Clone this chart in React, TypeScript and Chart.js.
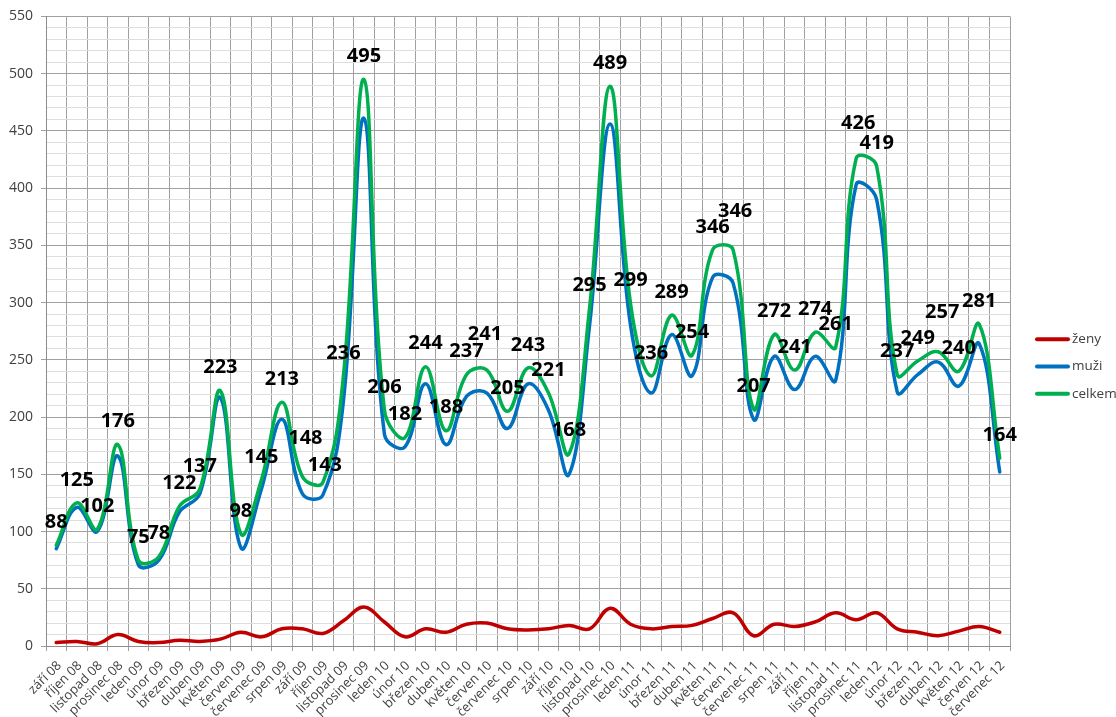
import React, { useEffect, useRef } from "react";
import { Chart, registerables } from "chart.js";

Chart.register(...registerables);

const categories: string[] = [
  "září 08", "říjen 08", "listopad 08", "prosinec 08",
  "leden 09", "únor 09", "březen 09", "duben 09", "květen 09", "červen 09", "červenec 09", "srpen 09", "září 09", "říjen 09", "listopad 09", "prosinec 09",
  "leden 10", "únor 10", "březen 10", "duben 10", "květen 10", "červen 10", "červenec 10", "srpen 10", "září 10", "říjen 10", "listopad 10", "prosinec 10",
  "leden 11", "únor 11", "březen 11", "duben 11", "květen 11", "červen 11", "červenec 11", "srpen 11", "září 11", "říjen 11", "listopad 11", "prosinec 11",
  "leden 12", "únor 12", "březen 12", "duben 12", "květen 12", "červen 12", "červenec 12",
];

const zeny: number[] = [
  3, 4, 2, 10,
  4, 3, 5, 4, 6, 12, 8, 15, 15, 11, 22, 34,
  21, 8, 15, 12, 19, 20, 15, 14, 15, 18, 15, 33,
  19, 15, 17, 18, 24, 29, 9, 19, 17, 21, 29, 23,
  29, 15, 12, 9, 13, 17, 12,
];

const muzi: number[] = [
  85, 121, 100, 166,
  71, 75, 117, 133, 217, 86, 137, 198, 133, 132, 214, 461,
  185, 174, 229, 176, 218, 221, 190, 229, 206, 150, 280, 456,
  280, 221, 272, 236, 322, 317, 198, 253, 224, 253, 232, 403,
  390, 222, 237, 248, 227, 264, 152,
];

const celkem: number[] = [
  88, 125, 102, 176,
  75, 78, 122, 137, 223, 98, 145, 213, 148, 143, 236, 495,
  206, 182, 244, 188, 237, 241, 205, 243, 221, 168, 295, 489,
  299, 236, 289, 254, 346, 346, 207, 272, 241, 274, 261, 426,
  419, 237, 249, 257, 240, 281, 164,
];

const seriesNames = ["ženy", "muži", "celkem"];
const seriesColors = ["#C00000", "#0070C0", "#00B050"];

const Y_MAX = 550;
const Y_MINOR_STEP = 10;
const Y_MAJOR_STEP = 50;

// layout: pixel nudges of a few value labels moved to avoid overlaps
const labelNudge: Record<number, [number, number]> = {
  12: [3, -15],
  13: [2, 6],
  21: [-2, -13],
  33: [2, -16],
  39: [2, -12],
  43: [4, -17],
};

const FONT = "'Open Sans', 'Noto Sans', sans-serif";

const valueLabelPlugin = {
  id: "celkemValueLabels",
  afterDatasetsDraw(chart: any) {
    const meta = chart.getDatasetMeta(2);
    const ctx = chart.ctx;
    ctx.save();
    ctx.font = `bold 20px ${FONT}`;
    ctx.fillStyle = "#000000";
    ctx.textAlign = "center";
    ctx.textBaseline = "middle";
    meta.data.forEach((pt: any, i: number) => {
      const [dx, dy] = labelNudge[i] || [0, 0];
      ctx.fillText(String(celkem[i]), pt.x + dx, pt.y - 23 + dy);
    });
    ctx.restore();
  },
};

const sideLegendPlugin = {
  id: "sideLegend",
  afterDraw(chart: any) {
    const ctx = chart.ctx;
    const area = chart.chartArea;
    const x0 = area.right + 27;
    const midY = chart.height / 2 + 8;
    const rowGap = 27.3;
    ctx.save();
    ctx.font = `13.5px ${FONT}`;
    ctx.textAlign = "left";
    ctx.textBaseline = "middle";
    seriesNames.forEach((name, i) => {
      const y = midY + (i - 1) * rowGap;
      ctx.strokeStyle = seriesColors[i];
      ctx.lineWidth = 4;
      ctx.lineCap = "round";
      ctx.beginPath();
      ctx.moveTo(x0, y);
      ctx.lineTo(x0 + 31, y);
      ctx.stroke();
      ctx.fillStyle = "#404040";
      ctx.fillText(name, x0 + 35, y);
    });
    ctx.restore();
  },
};

export default function App() {
  const canvasRef = useRef<HTMLCanvasElement | null>(null);

  useEffect(() => {
    document.body.style.margin = "0";
    const canvas = canvasRef.current;
    if (!canvas) return;

    const seriesData = [zeny, muzi, celkem];
    const chart = new Chart(canvas, {
      type: "line",
      data: {
        labels: categories,
        datasets: seriesData.map((d, i) => ({
          label: seriesNames[i],
          data: d,
          borderColor: seriesColors[i],
          backgroundColor: seriesColors[i],
          borderWidth: 3.5,
          borderCapStyle: "round",
          borderJoinStyle: "round",
          tension: 0.4,
          pointRadius: 0,
          pointHoverRadius: 0,
          fill: false,
          order: 3 - i,
        })),
      },
      options: {
        animation: false,
        responsive: true,
        maintainAspectRatio: false,
        layout: { padding: { left: 1, top: 16, right: 106, bottom: 0 } },
        plugins: {
          legend: { display: false },
          tooltip: { enabled: false },
        },
        scales: {
          x: {
            type: "category",
            offset: true,
            afterFit: (scale: any) => {
              scale.paddingLeft = 0;
              scale.paddingRight = 0;
              scale.height = 71;
            },
            grid: {
              offset: true,
              color: "#A0A0A0",
              lineWidth: 1,
              drawTicks: true,
              tickLength: 5,
              tickColor: "#A0A0A0",
            },
            border: { color: "#8C8C8C", width: 1 },
            ticks: {
              autoSkip: false,
              maxRotation: 45,
              minRotation: 45,
              color: "#404040",
              font: { family: FONT, size: 13 },
              padding: 7,
              labelOffset: 3,
            },
          },
          y: {
            min: 0,
            max: Y_MAX,
            grid: {
              color: (c: any) => (c.tick && c.tick.value % Y_MAJOR_STEP === 0 ? "#A0A0A0" : "#DEDEDE"),
              lineWidth: 1,
              tickLength: 5,
              tickColor: (c: any) => (c.tick && c.tick.value % Y_MAJOR_STEP === 0 ? "#A0A0A0" : "rgba(0,0,0,0)"),
            },
            border: { color: "#8C8C8C", width: 1 },
            ticks: {
              stepSize: Y_MINOR_STEP,
              autoSkip: false,
              color: "#404040",
              font: { family: FONT, size: 14 },
              padding: 8,
              callback: (v: any) => (Number(v) % Y_MAJOR_STEP === 0 ? String(v) : ""),
            },
          },
        },
      },
      plugins: [valueLabelPlugin, sideLegendPlugin],
    });

    return () => chart.destroy();
  }, []);

  return (
    <div style={{ width: 1116, height: 717, position: "relative", overflow: "hidden", background: "#ffffff" }}>
      <canvas ref={canvasRef} />
    </div>
  );
}
